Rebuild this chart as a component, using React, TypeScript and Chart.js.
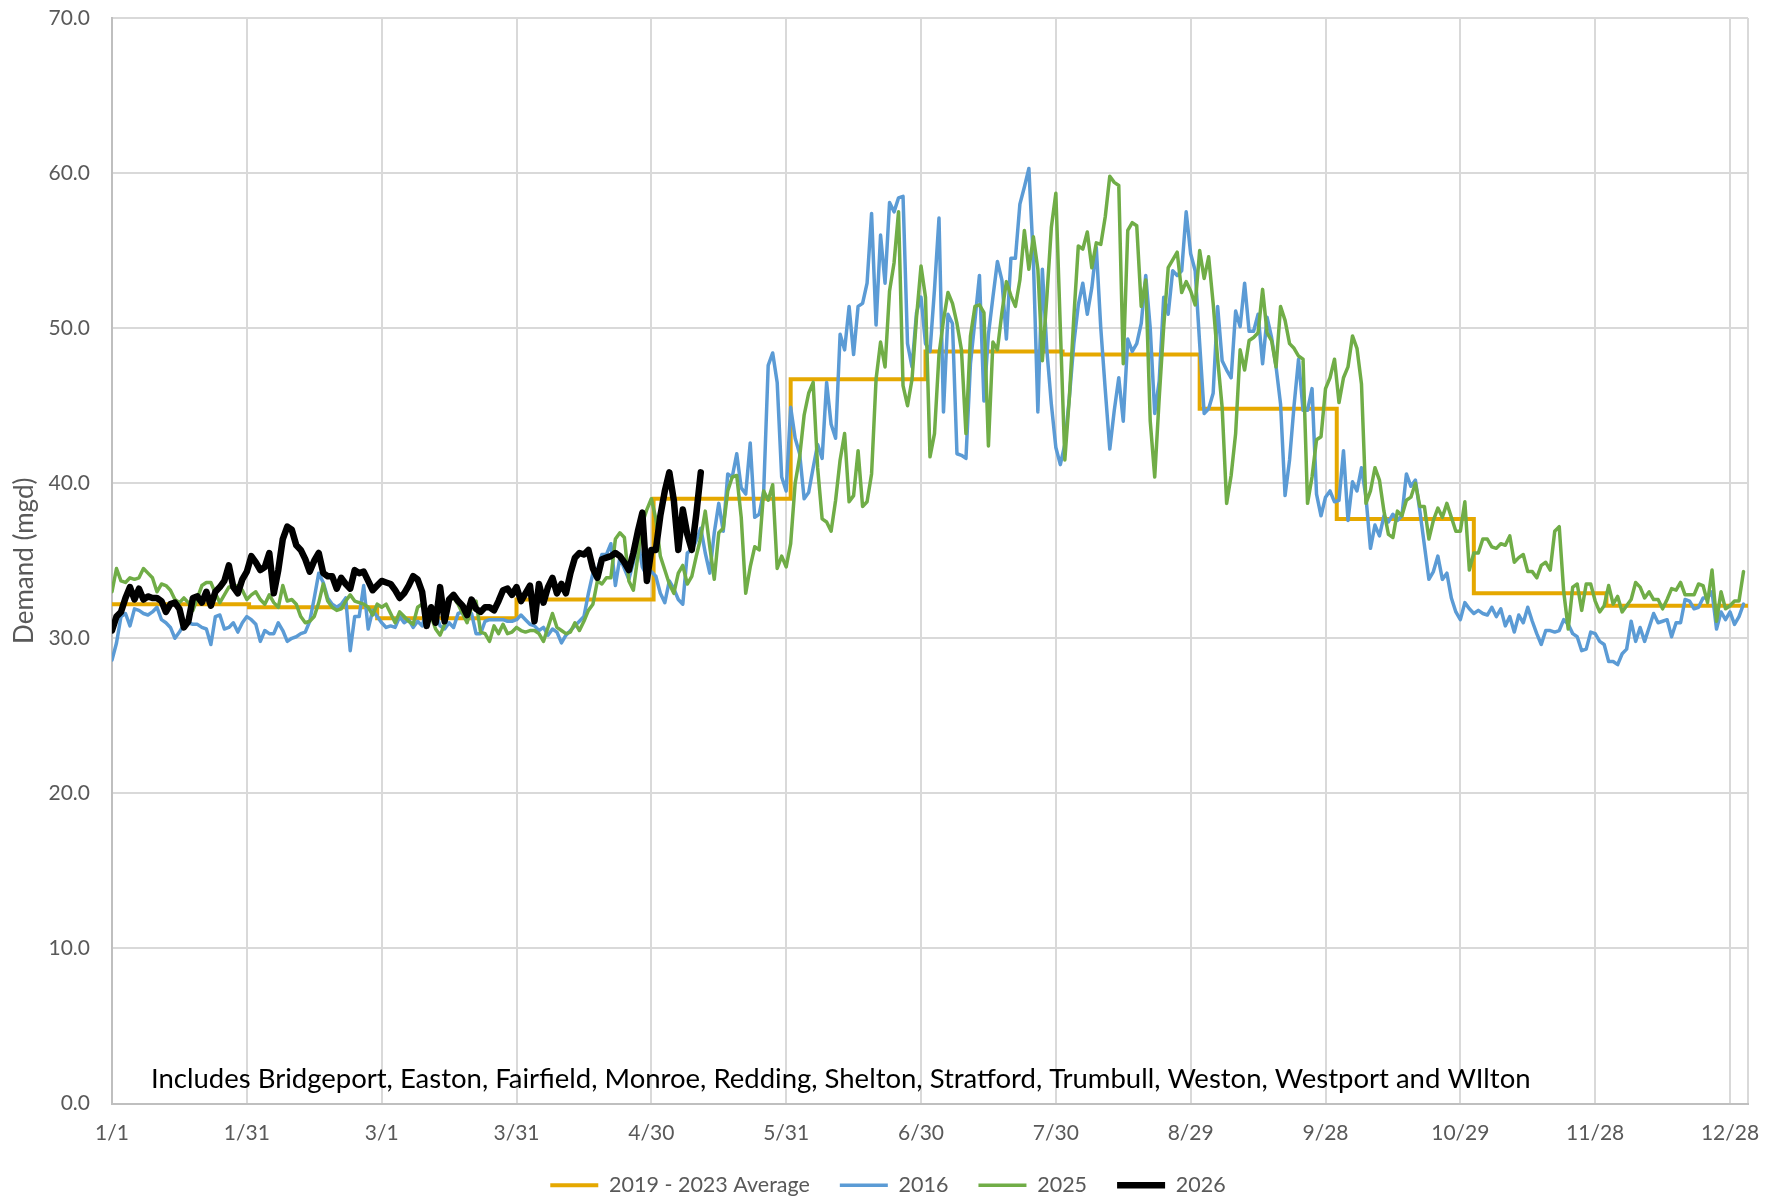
import React, { useEffect, useRef } from "react";
import { Chart, registerables } from "chart.js";

Chart.register(...registerables);

// ---------- data ----------
const tickDays = [0, 30, 60, 90, 120, 150, 180, 210, 240, 270, 300, 330, 360];
const tickLabels = ["1/1", "1/31", "3/1", "3/31", "4/30", "5/31", "6/30", "7/30", "8/29", "9/28", "10/29", "11/28", "12/28"];
const X_END = 364;

// 2019 - 2023 monthly average (step function): day where each month's level starts, and its level
const avgStepDays = [0, 30.5, 59, 90, 120.5, 151, 181, 211.5, 242, 272.5, 303, 332.5];
const avgMonthly = [32.2, 32.0, 31.3, 32.5, 39.0, 46.7, 48.5, 48.3, 44.8, 37.7, 32.9, 32.1];

const demand2016 = [
  28.6, 29.7, 31.4, 31.6, 30.8, 31.9, 31.8, 31.6, 31.5, 31.7,
  32.0, 31.2, 31.0, 30.7, 30.0, 30.4, 30.9, 31.0, 30.9, 30.9,
  30.7, 30.6, 29.6, 31.4, 31.5, 30.6, 30.7, 31.0, 30.4, 31.0,
  31.4, 31.2, 30.9, 29.8, 30.5, 30.3, 30.3, 31.0, 30.5, 29.8,
  30.0, 30.1, 30.3, 30.4, 31.1, 32.6, 34.2, 33.6, 32.6, 32.2,
  32.0, 32.2, 32.6, 29.2, 31.4, 31.4, 33.4, 30.6, 31.8, 31.4,
  31.0, 30.7,
  30.8, 30.7, 31.4, 31.0, 31.2, 30.7, 31.1, 30.8, 31.8, 31.4,
  31.6, 30.8, 30.6, 31.0, 30.7, 31.6, 31.7, 31.5, 31.6, 30.3,
  30.3, 31.1, 31.2, 31.2, 31.2, 31.2, 31.1, 31.1, 31.2, 31.5,
  31.2, 30.9, 30.8, 30.5, 30.7, 30.2, 30.6, 30.4, 29.7, 30.2,
  30.5, 30.8,
  31.1, 31.4, 32.9, 34.2, 34.4, 35.4, 35.4, 36.1, 33.4, 35.2,
  34.5, 33.8, 34.9, 36.3, 34.6, 34.0, 34.3, 34.0, 32.9, 32.3,
  33.7, 33.2, 32.5, 32.2,
  35.5, 35.7, 36.3, 37.1, 35.5, 34.2, 36.8, 38.7, 36.9, 40.6,
  40.4, 41.9, 39.7, 39.3, 42.6, 37.8, 38.0, 39.5, 47.6, 48.4,
  46.5, 40.4, 39.5, 44.9, 42.9, 41.9, 39.0, 39.4, 41.0,
  42.5, 41.6, 46.5, 43.8, 42.9, 49.6, 48.6, 51.4, 48.3, 51.4,
  51.6, 52.9, 57.4, 50.2, 56.0, 52.9, 58.1, 57.5, 58.4, 58.5,
  49.0, 47.5, 51.0, 52.0,
  49.0, 48.5, 52.5, 57.1, 44.6, 50.9, 50.3, 41.9, 41.8, 41.6,
  47.7, 50.5, 53.4, 45.3, 49.6, 52.0, 54.3, 53.1, 49.3, 54.5,
  54.5, 58.0, 59.1, 60.3, 54.4, 44.6, 53.8, 48.6, 45.1, 42.3,
  41.2, 42.5,
  45.5, 49.0, 51.5, 52.9, 50.9, 52.6, 55.2, 50.0, 46.0, 42.2,
  44.7, 46.8, 44.0, 49.3, 48.5, 49.0, 50.3, 53.4,
  50.0, 44.5, 46.6, 52.0, 50.9, 53.7, 53.4, 53.7, 57.5, 54.8,
  53.7, 49.0, 44.5, 44.8, 45.8, 51.4, 47.9, 47.3, 46.8, 51.1,
  50.1, 52.9, 49.8, 49.8, 50.9, 47.7, 50.7, 49.4, 47.5, 45.1,
  39.2, 41.5, 45.0, 48.0, 44.7, 44.7, 46.1, 39.3, 37.9, 39.1,
  39.5, 38.8, 38.9, 42.1, 37.6, 40.1, 39.5, 41.0, 39.1, 35.8,
  37.3, 36.6, 37.9, 37.5, 38.0, 37.6, 37.9, 40.6, 39.8, 40.2,
  38.2, 36.0, 33.8, 34.3, 35.3, 33.8, 34.2, 32.6, 31.7, 31.2,
  32.3, 31.9, 31.6, 31.8, 31.6,
  31.5, 32.0, 31.4, 31.9, 30.8, 31.4, 30.4, 31.5, 31.0, 32.0,
  31.1, 30.3, 29.6, 30.5, 30.5, 30.4, 30.5, 31.2, 30.9, 30.3,
  30.1, 29.2, 29.3, 30.4, 30.3, 29.8, 29.6, 28.5, 28.5, 28.3,
  29.0, 29.3, 31.1, 29.8, 30.7, 29.8, 30.7, 31.6, 31.0, 31.1,
  31.2, 30.1, 31.0, 31.0, 32.5, 32.4, 31.9, 32.0, 32.6, 32.6,
  33.0, 30.6, 31.7, 31.2, 31.7, 30.9, 31.4, 32.2,
];

const demand2025 = [
  33.0, 34.5, 33.7, 33.6, 33.9, 33.8, 33.9, 34.5, 34.2, 33.9,
  33.0, 33.5, 33.4, 33.1, 32.5, 32.3, 32.6, 32.3, 31.8, 32.6,
  33.4, 33.6, 33.6, 32.9, 32.3, 32.8, 33.3, 33.3, 33.4, 33.1,
  32.5, 32.8, 33.0, 32.5, 32.2, 32.8, 32.3, 32.0, 33.4, 32.4,
  32.5, 32.2, 31.4, 31.0, 31.1, 31.4, 32.3, 33.5, 32.4, 32.0,
  31.8, 31.9, 32.4, 32.8, 32.4, 32.3, 32.2, 32.0, 31.5, 32.2,
  32.0, 32.2, 31.6, 31.0, 31.7,
  31.4, 31.1, 30.9, 32.0, 32.2, 31.8, 31.4, 30.6, 30.2, 30.9,
  32.5, 32.6, 32.2, 31.6, 31.0,
  32.0, 32.4, 30.4, 30.3, 29.8, 30.8, 30.3, 30.9, 30.3, 30.4,
  30.7, 30.5, 30.4, 30.5, 30.5, 30.3, 29.8, 30.7, 31.6, 30.7,
  30.5, 30.3, 30.4, 31.0, 30.5, 31.1, 31.8, 32.2, 33.7, 33.5,
  33.9, 33.9, 36.4, 36.8, 36.5, 33.7, 33.1, 35.3, 37.4, 38.3,
  39.0, 37.7, 35.3, 34.4, 33.5, 32.9, 34.2, 34.7, 33.5, 34.0,
  35.3,
  36.5, 38.2, 35.9, 33.8, 36.8, 37.1, 39.5, 40.4, 40.5, 37.8,
  32.9, 34.6, 35.9, 35.7, 39.5, 38.9, 39.9, 34.5, 35.3, 34.6,
  36.1, 40.0, 41.7, 44.4, 45.8, 46.5, 41.0, 37.7, 37.5, 36.9,
  38.9, 41.5, 43.2, 38.8, 39.2, 42.1, 38.5, 38.8, 40.6,
  46.7, 49.1, 47.5, 52.4, 54.2, 57.5, 46.3, 45.0, 46.7, 50.7,
  54.0, 52.0, 41.7, 43.2, 48.3, 50.5, 52.3, 51.6, 50.3, 48.6,
  43.2, 49.5, 51.4, 51.5, 51.0, 42.4, 49.1, 48.6, 51.0, 53.0,
  52.1, 51.4, 53.1, 56.3, 53.8, 55.9, 53.8, 47.9, 52.0, 56.5,
  58.7, 50.0, 41.5, 45.5, 50.7, 55.3, 55.1, 56.2, 53.9, 55.5,
  55.4, 57.2, 59.8, 59.4, 59.2, 47.7, 56.3, 56.8, 56.6, 51.4,
  53.1, 44.0, 40.4, 45.5, 50.1, 53.9, 54.4, 54.9, 52.3, 53.0,
  52.4, 51.5, 55.0,
  53.2, 54.6, 51.6, 48.0, 44.9, 38.7, 40.5, 43.2, 48.6, 47.3,
  49.2, 49.4, 49.7, 52.5, 49.7, 49.2, 47.5, 51.4, 50.5, 49.0,
  48.7, 48.2, 48.0, 38.7, 40.4, 42.8, 43.0, 46.1, 46.8, 48.0,
  45.2, 46.8, 47.5, 49.5, 48.7, 46.4, 38.7, 39.5, 41.0, 40.2,
  38.2, 36.7, 36.5, 38.2, 37.9, 38.9, 39.1, 40.0, 38.5, 38.5,
  36.4, 37.6, 38.4, 37.8, 38.7, 37.8, 36.9, 36.9, 38.8, 34.4,
  35.5, 35.5, 36.4,
  36.4, 35.9, 35.8, 36.1, 36.0, 36.6, 34.9, 35.2, 35.4, 34.3,
  34.3, 33.9, 34.7, 34.9, 34.4, 36.9, 37.2, 33.0, 30.6, 33.3,
  33.5, 31.8, 33.5, 33.5, 32.4, 31.7, 32.1, 33.4, 32.2, 32.7,
  31.7, 32.1, 32.5, 33.6, 33.3, 32.6, 33.0, 32.5, 32.5, 31.9,
  32.5, 33.2, 33.1, 33.6, 32.8, 32.8, 32.8, 33.5, 33.4, 32.3,
  34.4, 31.1, 33.0, 31.9, 32.1, 32.4, 32.4, 34.3,
];

const demand2026 = [
  30.5, 31.4, 31.7, 32.6, 33.3, 32.5, 33.2, 32.5, 32.7, 32.6,
  32.6, 32.4, 31.7, 32.2, 32.3, 31.9, 30.7, 31.1, 32.6, 32.7,
  32.3, 33.0, 32.1, 33.0, 33.3, 33.7, 34.7, 33.3, 32.9, 33.8,
  34.3, 35.3, 34.9, 34.4, 34.6, 35.5, 32.9, 34.4, 36.4, 37.2,
  37.0, 36.0, 35.7, 35.1, 34.3, 35.0, 35.5, 34.2, 34.0, 34.0,
  33.2, 33.9, 33.5, 33.2, 34.4, 34.2, 34.3, 33.7, 33.1, 33.4,
  33.7, 33.6, 33.5, 33.1,
  32.6, 32.9, 33.4, 34.0, 33.8, 33.0, 30.8, 32.0, 31.0, 33.3,
  31.1, 32.5, 32.8, 32.4, 32.1, 31.5, 32.5, 31.9, 31.7, 32.0,
  32.0, 31.8, 32.4, 33.1, 33.2, 32.8, 33.3, 32.4, 32.9, 33.4,
  31.1, 33.5, 32.3, 33.3, 33.9, 32.9, 33.5, 32.9, 34.2, 35.2,
  35.5, 35.4, 35.7, 34.5, 33.9, 35.1, 35.2, 35.3, 35.5, 35.3,
  34.9, 34.4, 35.5, 36.9, 38.1, 33.7, 35.7, 35.7, 37.9, 39.5,
  40.7, 38.9, 35.7, 38.3, 36.7, 35.7, 38.0, 40.7,
];

const NOTE = "Includes Bridgeport, Easton, Fairfield, Monroe, Redding, Shelton, Stratford, Trumbull, Weston, Westport and WIlton";

const FONT = "Lato, 'Open Sans', sans-serif";

const toPoints = (arr: number[]) => arr.map((y, i) => ({ x: i, y }));

const notePlugin = {
  id: "notePlugin",
  afterDraw(chart: any) {
    const { ctx, chartArea } = chart;
    ctx.save();
    let size = 28;
    ctx.font = `${size}px ${FONT}`;
    const w = ctx.measureText(NOTE).width;
    size = Math.round((size * 1380) / w * 2) / 2;
    ctx.font = `${size}px ${FONT}`;
    ctx.fillStyle = "#000000";
    ctx.textBaseline = "alphabetic";
    ctx.textAlign = "left";
    ctx.fillText(NOTE, chartArea.left + 39, chartArea.bottom - 16);
    ctx.restore();
  },
};

export default function App() {
  const ref = useRef<HTMLCanvasElement | null>(null);

  useEffect(() => {
    if (!ref.current) return;
    Chart.defaults.font.family = FONT;
    const avgData = avgStepDays.map((x, i) => ({ x, y: avgMonthly[i] }));
    avgData.push({ x: X_END, y: avgMonthly[avgMonthly.length - 1] });

    const chart = new Chart(ref.current, {
      type: "line",
      data: {
        datasets: [
          {
            label: "2019 - 2023 Average",
            data: avgData,
            borderColor: "#E5A800",
            backgroundColor: "#E5A800",
            borderWidth: 4,
            pointRadius: 0,
            stepped: "before",
            borderCapStyle: "round",
            order: 4,
          },
          {
            label: "2016",
            data: toPoints(demand2016),
            borderColor: "#5B9BD5",
            backgroundColor: "#5B9BD5",
            borderWidth: 3.5,
            pointRadius: 0,
            borderCapStyle: "round",
            borderJoinStyle: "round",
            order: 3,
          },
          {
            label: "2025",
            data: toPoints(demand2025),
            borderColor: "#70AD47",
            backgroundColor: "#70AD47",
            borderWidth: 3.5,
            pointRadius: 0,
            borderCapStyle: "round",
            borderJoinStyle: "round",
            order: 2,
          },
          {
            label: "2026",
            data: toPoints(demand2026),
            borderColor: "#000000",
            backgroundColor: "#000000",
            borderWidth: 6.5,
            pointRadius: 0,
            borderCapStyle: "round",
            borderJoinStyle: "round",
            order: 1,
          },
        ],
      },
      options: {
        responsive: false,
        animation: false,
        devicePixelRatio: 1,
        layout: { padding: { top: 18, right: 30, bottom: -4, left: 28 } },
        plugins: {
          tooltip: { enabled: false },
          legend: {
            position: "bottom",
            labels: {
              usePointStyle: true,
              pointStyle: "line",
              pointStyleWidth: 48,
              padding: 30,
              color: "#595959",
              font: { size: 21.5, family: FONT },
              sort: (a: any, b: any) => a.datasetIndex - b.datasetIndex,
            },
          },
        },
        scales: {
          x: {
            type: "linear",
            min: 0,
            max: X_END,
            afterBuildTicks: (axis: any) => {
              axis.ticks = [...tickDays.map((v) => ({ value: v })), { value: X_END }];
            },
            afterFit: (scale: any) => {
              scale.height = 41;
            },
            ticks: {
              autoSkip: false,
              maxRotation: 0,
              minRotation: 0,
              padding: 17,
              color: "#595959",
              font: { size: 21, family: FONT },
              callback: (value: any) => {
                const i = tickDays.indexOf(Number(value));
                return i >= 0 ? tickLabels[i] : "";
              },
            },
            grid: { color: "#d9d9d9", lineWidth: 2, drawTicks: false },
            border: { color: "#bfbfbf", width: 2 },
          },
          y: {
            min: 0,
            max: 70,
            afterFit: (scale: any) => {
              scale.width = 84;
              scale.paddingTop = 0;
              scale.paddingBottom = 0;
            },
            ticks: {
              stepSize: 10,
              padding: 22,
              color: "#595959",
              font: { size: 21, family: FONT },
              callback: (value: any) => Number(value).toFixed(1),
            },
            grid: { color: "#d9d9d9", lineWidth: 2, drawTicks: false },
            border: { color: "#bfbfbf", width: 2 },
            title: {
              display: true,
              text: "Demand (mgd)",
              color: "#595959",
              font: { size: 26, family: FONT },
              padding: { top: -19, bottom: 0 },
            },
          },
        },
      },
      plugins: [notePlugin],
    });
    return () => chart.destroy();
  }, []);

  return (
    <div style={{ position: "absolute", left: 0, top: 0, width: 1778, height: 1202, background: "#ffffff" }}>
      <canvas ref={ref} width={1778} height={1202} style={{ display: "block" }} />
    </div>
  );
}
